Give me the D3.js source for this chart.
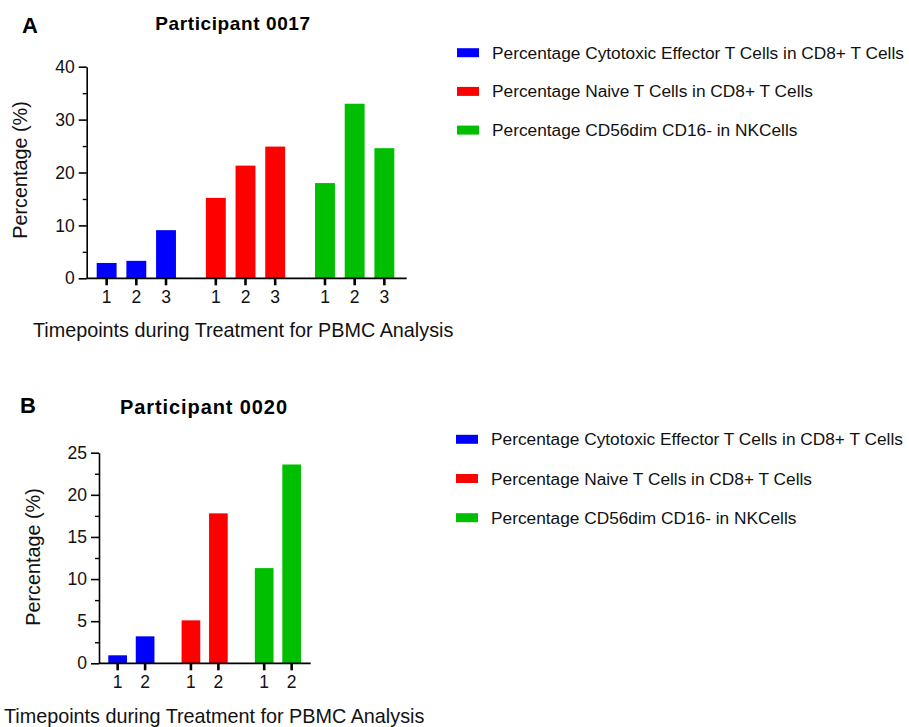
<!DOCTYPE html>
<html>
<head>
<meta charset="utf-8">
<script src="https://cdn.jsdelivr.net/npm/d3@7"></script>
<style>
  html, body { margin: 0; padding: 0; background: #fff; }
  svg { display: block; font-family: "Liberation Sans", Arial, sans-serif; }
</style>
</head>
<body>
<svg id="chart" width="909" height="727"></svg>
<script>
// ---------- data ----------
const seriesNames = [
  "Percentage Cytotoxic Effector T Cells in CD8+ T Cells",
  "Percentage Naive T Cells in CD8+ T Cells",
  "Percentage CD56dim CD16- in NKCells"
];
const seriesColors = ["#0000ff", "#ff0000", "#00bf00"];

const titleA = "Participant 0017";
const timepointsA = ["1", "2", "3"];
const cytotoxicA = [2.9, 3.3, 9.1];
const naiveA = [15.2, 21.3, 24.9];
const cd56A = [18.0, 33.0, 24.6];
const yTicksA = [0, 10, 20, 30, 40];

const titleB = "Participant 0020";
const timepointsB = ["1", "2"];
const cytotoxicB = [0.95, 3.2];
const naiveB = [5.1, 17.8];
const cd56B = [11.3, 23.6];
const yTicksB = [0, 5, 10, 15, 20, 25];

const yAxisTitle = "Percentage (%)";
const xAxisTitle = "Timepoints during Treatment for PBMC Analysis";

// ---------- drawing ----------
const svg = d3.select("#chart");

function drawPanel(cfg) {
  const g = svg.append("g");
  const values = [cfg.s1, cfg.s2, cfg.s3];

  const y = d3.scaleLinear().domain([0, cfg.yMax]).range([cfg.y0, cfg.y1]);
  const xGroup = d3.scaleBand().domain(seriesNames)
    .range([cfg.xBarStart, cfg.xBarEnd]).paddingInner(cfg.groupPad).paddingOuter(0);
  const xInner = d3.scaleBand().domain(cfg.timepoints)
    .range([0, xGroup.bandwidth()]).paddingInner(cfg.barPad).paddingOuter(0);

  // bars
  seriesNames.forEach((name, si) => {
    const gg = g.append("g").attr("transform", `translate(${xGroup(name)},0)`);
    gg.selectAll("rect").data(values[si]).join("rect")
      .attr("x", (d, i) => xInner(cfg.timepoints[i]))
      .attr("width", xInner.bandwidth())
      .attr("y", d => y(d))
      .attr("height", d => y(0) - y(d))
      .attr("fill", seriesColors[si]);
  });

  // y axis major
  const yAxis = d3.axisLeft(y).tickValues(cfg.yTicks).tickSize(8).tickPadding(4).tickSizeOuter(0);
  const ya = g.append("g").attr("transform", `translate(${cfg.xAxis},0)`).call(yAxis);
  ya.select(".domain").attr("stroke", "#000").attr("stroke-width", 1.6);
  ya.selectAll(".tick line").attr("stroke", "#000").attr("stroke-width", 1.6);
  ya.selectAll(".tick text").attr("font-size", cfg.tickFont).attr("fill", "#111");

  // y axis minor ticks
  const minorVals = d3.range(0, cfg.yMax + 1e-9, cfg.minorStep).filter(v => !cfg.yTicks.includes(v));
  const yMinor = d3.axisLeft(y).tickValues(minorVals).tickSize(4).tickFormat("").tickSizeOuter(0);
  const ym = g.append("g").attr("transform", `translate(${cfg.xAxis},0)`).call(yMinor);
  ym.select(".domain").remove();
  ym.selectAll(".tick line").attr("stroke", "#000").attr("stroke-width", 1.4);

  // x axis line
  g.append("line")
    .attr("x1", cfg.xAxis).attr("x2", cfg.xAxisEnd)
    .attr("y1", y(0)).attr("y2", y(0))
    .attr("stroke", "#000").attr("stroke-width", 1.8);

  // x ticks + labels
  seriesNames.forEach((name, si) => {
    const gg = g.append("g").attr("transform", `translate(${xGroup(name)},${y(0)})`);
    const xa = d3.axisBottom(xInner).tickSize(7).tickPadding(5).tickSizeOuter(0);
    gg.call(xa);
    gg.select(".domain").remove();
    gg.selectAll(".tick line").attr("stroke", "#000").attr("stroke-width", 2.6);
    gg.selectAll(".tick text").attr("font-size", cfg.tickFont).attr("fill", "#111");
  });

  // axis titles
  g.append("text")
    .attr("transform", `translate(${cfg.yTitleX},${cfg.yTitleY}) rotate(-90)`)
    .attr("text-anchor", "middle")
    .attr("font-size", cfg.axisFont).attr("fill", "#111")
    .text(yAxisTitle);
  g.append("text")
    .attr("x", cfg.xTitleX).attr("y", cfg.xTitleY)
    .attr("font-size", cfg.axisFont).attr("fill", "#111")
    .text(xAxisTitle);

  // chart title
  g.append("text")
    .attr("x", cfg.titleX).attr("y", cfg.titleY)
    .attr("text-anchor", "middle")
    .attr("font-size", cfg.titleFont).attr("font-weight", "bold")
    .attr("letter-spacing", cfg.titleSpacing)
    .attr("fill", "#000")
    .text(cfg.title);

  // panel letter
  g.append("text")
    .attr("x", cfg.letterX).attr("y", cfg.letterY)
    .attr("font-size", cfg.letterFont).attr("font-weight", "bold")
    .attr("fill", "#000")
    .text(cfg.letter);

  // legend
  const leg = g.append("g");
  seriesNames.forEach((name, si) => {
    const cy = cfg.legendY0 + si * cfg.legendStep;
    leg.append("rect")
      .attr("x", cfg.legendX).attr("y", cy - 4.5)
      .attr("width", 22).attr("height", 9)
      .attr("fill", seriesColors[si]);
    leg.append("text")
      .attr("x", cfg.legendX + 35).attr("y", cy)
      .attr("dy", "0.35em")
      .attr("font-size", cfg.legendFont).attr("fill", "#111")
      .text(name);
  });
}

drawPanel({
  letter: "A", letterX: 22, letterY: 33, letterFont: 22,
  title: titleA, titleX: 233, titleY: 30, titleFont: 19, titleSpacing: 0.6,
  timepoints: timepointsA, s1: cytotoxicA, s2: naiveA, s3: cd56A,
  yMax: 40, yTicks: yTicksA, minorStep: 5,
  y0: 278.3, y1: 66.7,
  xAxis: 86.7, xAxisEnd: 406.7, xBarStart: 96.7, xBarEnd: 394.3,
  groupPad: 0.274, barPad: 0.33,
  tickFont: 17.5, axisFont: 19.8,
  yTitleX: 27, yTitleY: 170,
  xTitleX: 33, xTitleY: 337,
  legendX: 457, legendY0: 52.7, legendStep: 38.7, legendFont: 17.3
});

drawPanel({
  letter: "B", letterX: 20, letterY: 412.5, letterFont: 22,
  title: titleB, titleX: 204, titleY: 414, titleFont: 20, titleSpacing: 0.9,
  timepoints: timepointsB, s1: cytotoxicB, s2: naiveB, s3: cd56B,
  yMax: 25, yTicks: yTicksB, minorStep: 2.5,
  y0: 663.3, y1: 452.7,
  xAxis: 99, xAxisEnd: 310.7, xBarStart: 108.3, xBarEnd: 301,
  groupPad: 0.37, barPad: 0.32,
  tickFont: 17.5, axisFont: 19.8,
  yTitleX: 40, yTitleY: 557,
  xTitleX: 4, xTitleY: 723,
  legendX: 456, legendY0: 439.3, legendStep: 39.2, legendFont: 17.3
});
</script>
</body>
</html>
